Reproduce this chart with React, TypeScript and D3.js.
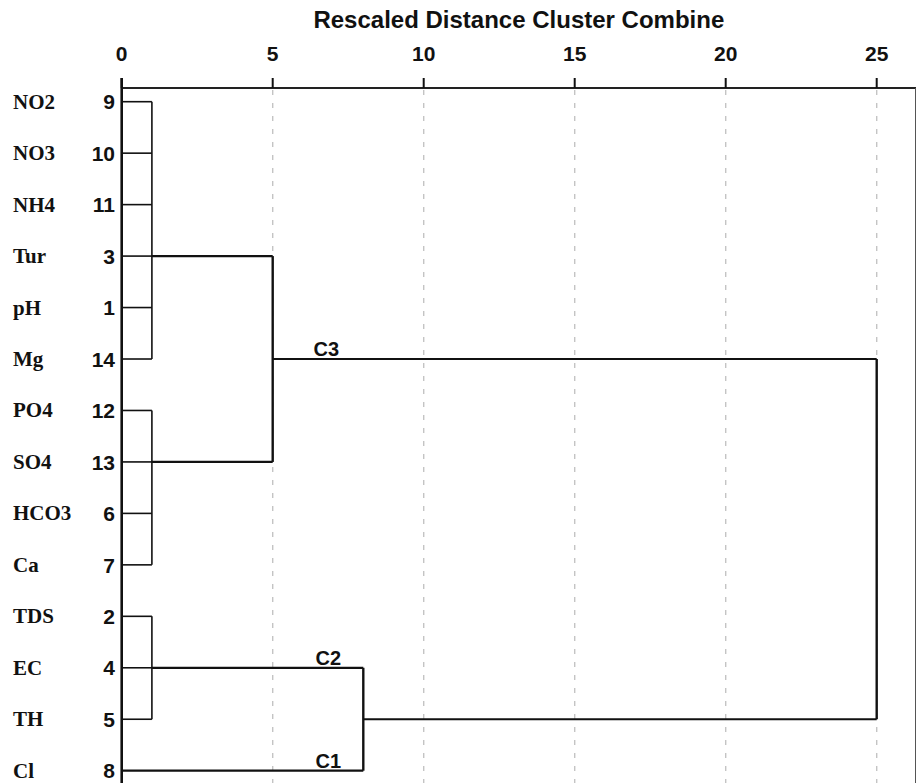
import React from "react";
import * as d3 from "d3";

// ---- data ----
const leafNames = ["NO2", "NO3", "NH4", "Tur", "pH", "Mg", "PO4", "SO4", "HCO3", "Ca", "TDS", "EC", "TH", "Cl"];
const leafIds = [9, 10, 11, 3, 1, 14, 12, 13, 6, 7, 2, 4, 5, 8];
const tickValues = [0, 5, 10, 15, 20, 25];
const title = "Rescaled Distance Cluster Combine";

// merges: id, children (leaf rows as "L<i>" or cluster ids), distance, anchor row for output line
const merges = [
  { id: "A", children: ["L0", "L1", "L2", "L3", "L4", "L5"], dist: 1, row: 3 },
  { id: "B", children: ["L6", "L7", "L8", "L9"], dist: 1, row: 7 },
  { id: "C", children: ["L10", "L11", "L12"], dist: 1, row: 11 },
  { id: "AB", children: ["A", "B"], dist: 5, row: 5 },
  { id: "CCl", children: ["C", "L13"], dist: 8, row: 12 },
  { id: "root", children: ["AB", "CCl"], dist: 25, row: 8 },
];
const clusterLabels = [
  { text: "C3", row: 5, at: 6.35 },
  { text: "C2", row: 11, at: 6.42 },
  { text: "C1", row: 13, at: 6.42 },
];

export default function App() {
  const W = 917, H = 783;
  const x = d3.scaleLinear().domain([0, 25]).range([121.7, 876.7]);
  const y = d3.scaleLinear().domain([0, leafNames.length - 1]).range([101.7, 770.7]);
  const axisY = 88;
  const sans = "Liberation Sans, Arial, sans-serif";

  const nodeInfo: Record<string, { dist: number; row: number }> = {};
  leafNames.forEach((_, i) => (nodeInfo["L" + i] = { dist: 0, row: i }));
  merges.forEach((m) => (nodeInfo[m.id] = { dist: m.dist, row: m.row }));

  const lines: React.ReactNode[] = [];
  merges.forEach((m) => {
    const ys = m.children.map((c) => y(nodeInfo[c].row));
    const isLeafMerge = m.children.every((c) => c.startsWith("L"));
    lines.push(
      <line key={m.id + "v"} x1={x(m.dist)} x2={x(m.dist)} y1={d3.min(ys)!} y2={d3.max(ys)!}
        stroke="#111" strokeWidth={isLeafMerge ? 1.6 : 2.4} />
    );
    m.children.forEach((c) => {
      const ci = nodeInfo[c];
      const isLeaf = c.startsWith("L");
      lines.push(
        <line key={m.id + c} x1={x(ci.dist)} x2={x(m.dist)} y1={y(ci.row)} y2={y(ci.row)}
          stroke="#111" strokeWidth={isLeaf && m.dist <= 1 ? 1.6 : 2.2} />
      );
    });
  });

  return (
    <div style={{ position: "absolute", left: 0, top: 0 }}>
      <svg width={W} height={H} style={{ display: "block", background: "#fff" }}>
        <rect width={W} height={H} fill="#fff" />
        <text x={(x(0) + 916) / 2} y={28} textAnchor="middle" fontFamily={sans}
          fontWeight="bold" fontSize={24} fill="#111">{title}</text>
        {tickValues.filter((t) => t > 0).map((t) => (
          <line key={"g" + t} x1={x(t)} x2={x(t)} y1={axisY + 2} y2={H} stroke="#c4c4c4" strokeWidth={1.4}
            strokeDasharray="5,8" />
        ))}
        <line x1={x(0)} x2={916} y1={axisY} y2={axisY} stroke="#222" strokeWidth={1.8} />
        <line x1={915.5} x2={915.5} y1={axisY} y2={H} stroke="#555" strokeWidth={1} />
        {tickValues.map((t) => (
          <g key={"t" + t}>
            <line x1={x(t)} x2={x(t)} y1={78} y2={axisY} stroke="#111" strokeWidth={2} />
            <text x={x(t)} y={61} textAnchor="middle" fontFamily={sans} fontWeight="bold"
              fontSize={21} fill="#111">{t}</text>
          </g>
        ))}
        <line x1={x(0)} x2={x(0)} y1={78} y2={H} stroke="#111" strokeWidth={2.6} />
        {lines}
        {leafNames.map((n, i) => (
          <g key={"l" + i}>
            <text x={13} y={y(i) + 7} fontFamily="Liberation Serif, Times New Roman, serif" fontWeight="bold"
              fontSize={21} fill="#111">{n}</text>
            <text x={115} y={y(i) + 7.7} textAnchor="end" fontFamily={sans} fontWeight="bold"
              fontSize={21} fill="#111">{leafIds[i]}</text>
          </g>
        ))}
        {clusterLabels.map((c) => (
          <text key={c.text} x={x(c.at)} y={y(c.row) - 3} fontFamily={sans}
            fontWeight="bold" fontSize={20} fill="#111">{c.text}</text>
        ))}
      </svg>
    </div>
  );
}
